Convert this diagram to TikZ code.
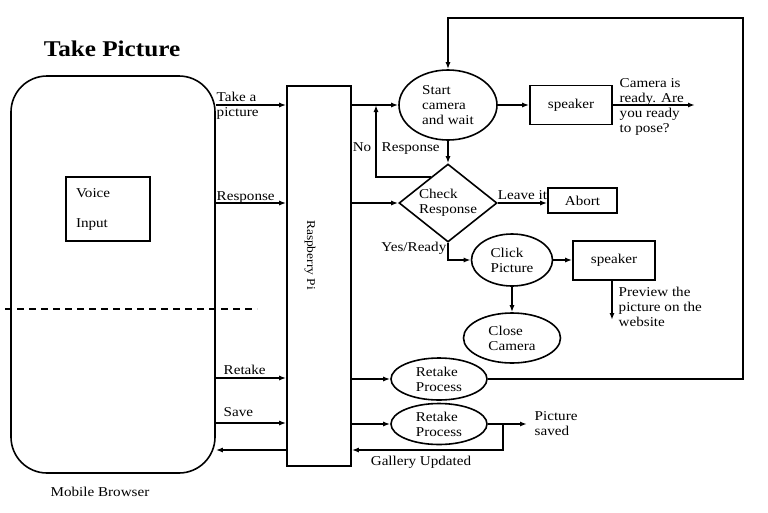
\documentclass[tikz,border=0pt]{standalone}
\usepackage{fontspec}
\setmainfont[FakeStretch=1.12]{Liberation Serif}
\usetikzlibrary{shapes.geometric,arrows.meta,calc}
\begin{document}
\begin{tikzpicture}[x=1pt,y=-1pt,
  every node/.style={font=\fontsize{13.5}{15}\selectfont, inner sep=1.5pt},
  line/.style={line width=1.6pt},
  arr/.style={line width=1.6pt, -{Latex[length=7pt,width=5pt]}},
  box/.style={draw, line width=1.6pt, inner sep=0pt},
  oval/.style={draw, ellipse, line width=1.6pt, inner sep=0pt, align=left},
  lbl/.style={align=left}
]
\useasboundingbox (0,0) rectangle (768,512);

% title
\node[font=\fontsize{22.5}{26}\selectfont\bfseries] (title) at (112,49) {Take Picture};

% mobile browser
\node[box, rounded corners=36pt, minimum width=204pt, minimum height=397pt] (mb) at (113,274.5) {};
\node[box, minimum width=84pt, minimum height=64pt, text width=64pt, align=left] (vi) at (108,209) {Voice\\[15pt]Input};
\coordinate (d1) at (5,309);
\coordinate (d2) at (257,309);
\draw[line, dash pattern=on 7pt off 5pt] (d1) -- (d2);
\node (mbl) at (100,492) {Mobile Browser};

% raspberry pi
\node[box, minimum width=64pt, minimum height=380pt] (rpi) at (319,276) {};
\node[rotate=-90, font=\fontsize{12}{14}\selectfont] (rpit) at (310,255) {Raspberry Pi};

% row coordinates
\coordinate (r1) at (0,105);
\coordinate (r2) at (0,203);
\coordinate (r3) at (0,378);
\coordinate (r4) at (0,423);
\coordinate (gy) at (503,450);

% browser -> rpi
\draw[arr] (mb.east |- r1) -- (rpi.west |- r1);
\node[lbl, anchor=west] (l1) at (215,106) {Take a\\picture};
\draw[arr] (mb.east |- r2) -- (rpi.west |- r2);
\node[anchor=base west] (l2) at (215,200) {Response};
\draw[arr] (mb.east |- r3) -- (rpi.west |- r3);
\node[anchor=base west] (l3) at (222,374) {Retake};
\draw[arr] (mb.east |- r4) -- (rpi.west |- r4);
\node[anchor=base west] (l4) at (222,416) {Save};
\draw[arr] (rpi.west |- gy) -- (mb.east |- gy);

% start camera
\node[oval, minimum width=98pt, minimum height=70pt] (sc) at (448,105) {Start\\camera\\and wait};
\draw[arr] (rpi.east |- r1) -- (sc.west);
\node[box, minimum width=82pt, minimum height=39pt] (sp1) at (571,105) {speaker};
\draw[arr] (sc.east) -- (sp1.west);
\coordinate (co) at (695,105);
\draw[arr] (sp1.east) -- (co);
\node[lbl, anchor=west] (l5) at (618,106.5) {Camera is\\ready. Are\\you ready\\to pose?};

% check response
\node[draw, diamond, line width=1.6pt, inner sep=0pt, aspect=1.25, minimum width=98pt, minimum height=78pt, align=left] (dia) at (448,203) {Check\\Response};
\draw[arr] (sc.south) -- (dia.north);
\draw[arr] (rpi.east |- r2) -- (dia.west);
\coordinate (nr) at (376,105);
\draw[arr] ($(dia.north)!0.35!(dia.west)$) -| (nr);
\node[anchor=base east] (l6) at (373,151) {No};
\node[anchor=base west] (l7) at (380,151) {Response};

\node[box, minimum width=69pt, minimum height=25pt] (ab) at (582.5,200.5) {Abort};
\draw[arr] (dia.east) -- (ab.west |- dia.east) node[midway, above, yshift=1pt] (l8) {Leave it};

% click picture
\node[oval, minimum width=81pt, minimum height=52pt] (cp) at (512,260) {Click\\Picture};
\draw[arr] (dia.south) |- (cp.west);
\node[anchor=east] (l9) at (448,248) {Yes/Ready};
\node[box, minimum width=82pt, minimum height=39pt] (sp2) at (614,260.5) {speaker};
\draw[arr] (cp.east) -- (sp2.west |- cp.east);
\coordinate (pv) at (612,320);
\draw[arr] (sp2.south -| pv) -- (pv);
\node[lbl, anchor=west] (l10) at (617,307) {Preview the\\picture on the\\website};

\node[oval, minimum width=97pt, minimum height=50pt] (cc) at (512,338) {Close\\Camera};
\draw[arr] (cp.south) -- (cc.north);

% retake processes
\node[oval, minimum width=96pt, minimum height=42pt] (rt1) at (439,379) {Retake\\Process};
\draw[arr] (rpi.east |- rt1.west) -- (rt1.west);
\coordinate (lp) at (743,18);
\draw[arr] (rt1.east) -| (lp) -| (sc.north);

\node[oval, minimum width=96pt, minimum height=41pt] (rt2) at (439,424) {Retake\\Process};
\draw[arr] (rpi.east |- rt2.west) -- (rt2.west);
\coordinate (ps) at (527,424);
\draw[arr] (rt2.east) -- (ps);
\node[lbl, anchor=west] (l11) at (533,424) {Picture\\saved};
\coordinate (br) at (503,424);
\draw[arr] (br) -- (gy) -- (rpi.east |- gy);
\node (l12) at (421,462) {Gallery Updated};
\end{tikzpicture}
\end{document}
